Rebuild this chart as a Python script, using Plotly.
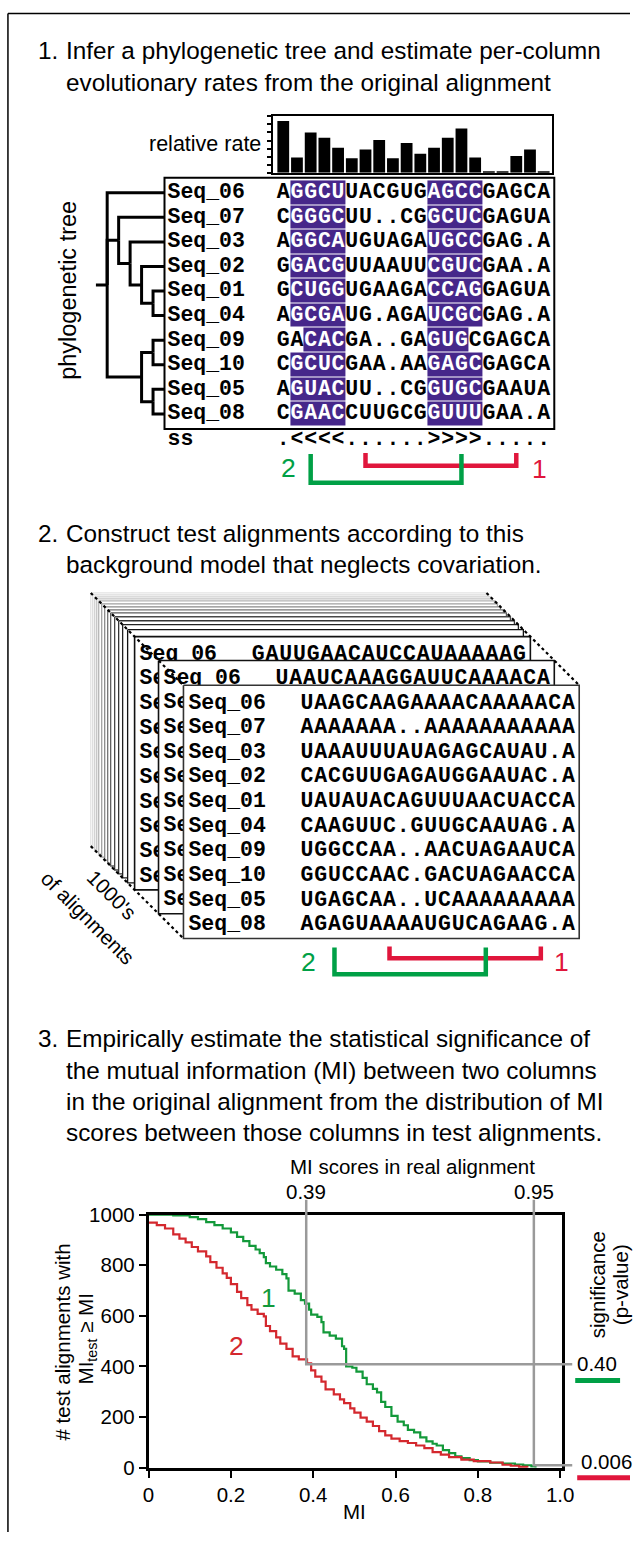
import plotly.graph_objects as go

W, H = 642, 1543

# ---------------- data ----------------
SEQ_NAMES = ["Seq_06", "Seq_07", "Seq_03", "Seq_02", "Seq_01",
             "Seq_04", "Seq_09", "Seq_10", "Seq_05", "Seq_08"]
REAL_ALIGNMENT = ["AGGCUUACGUGAGCCGAGCA", "CGGGCUU..CGGCUCGAGUA", "AGGCAUGUAGAUGCCGAG.A",
                  "GGACGUUAAUUCGUCGAA.A", "GCUGGUGAAGACCAGGAGUA", "AGCGAUG.AGAUCGCGAG.A",
                  "GACACGA..GAGUGCGAGCA", "CGCUCGAA.AAGAGCGAGCA", "AGUACUU..CGGUGCGAAUA",
                  "CGAACCUUGCGGUUUGAA.A"]
SS_NAME = "ss"
SS_LINE = ".<<<<......>>>>....."
RELATIVE_RATE = [6.4, 1.9, 5.0, 4.35, 3.1, 1.8, 2.9, 4.05, 1.8, 3.7,
                 2.35, 3.1, 4.35, 5.5, 1.9, 0.2, 0.2, 2.1, 2.9, 0.2]
TREE = (0, ["Seq_06",
            (1, ["Seq_07",
                 (2, ["Seq_03",
                      (3, ["Seq_02",
                           (4, ["Seq_01", "Seq_04"])])])]),
            (3, [(4, ["Seq_09", "Seq_10"]),
                 (4, ["Seq_05", "Seq_08"])])])
TEST_ALIGNMENT = ["UAAGCAAGAAAACAAAAACA", "AAAAAAA..AAAAAAAAAAA", "UAAAUUUAUAGAGCAUAU.A",
                  "CACGUUGAGAUGGAAUAC.A", "UAUAUACAGUUUAACUACCA", "CAAGUUC.GUUGCAAUAG.A",
                  "UGGCCAA..AACUAGAAUCA", "GGUCCAAC.GACUAGAACCA", "UGAGCAA..UCAAAAAAAAA",
                  "AGAGUAAAAUGUCAGAAG.A"]
TEST_BACK_ROWS = ["GAUUGAACAUCCAUAAAAAG", "UAAUCAAAGGAUUCAAAACA"]
PAIR_LABELS = ["1", "2"]
PAIR_COLUMNS = [(7, 18), (3, 14)]

MI_PAIR1 = [0.00, 0.06, 0.10, 0.12, 0.14, 0.16, 0.18, 0.20, 0.215, 0.23, 0.245, 0.26,
            0.27, 0.28, 0.285, 0.295, 0.31, 0.325, 0.335, 0.34, 0.355, 0.37, 0.38, 0.39,
            0.395, 0.41, 0.42, 0.425, 0.44, 0.455, 0.47, 0.475, 0.48, 0.495, 0.505, 0.52,
            0.53, 0.545, 0.555, 0.565, 0.575, 0.59, 0.605, 0.62, 0.63, 0.645, 0.66, 0.675,
            0.69, 0.70, 0.715, 0.73, 0.745, 0.76, 0.78, 0.80, 0.83, 0.86, 0.89, 0.91,
            0.93, 0.94]
N_PAIR1 = [1000, 997, 990, 982, 970, 958, 945, 930, 912, 895, 876, 862,
           848, 832, 808, 795, 782, 765, 748, 700, 688, 662, 648, 625,
           605, 596, 575, 535, 522, 510, 480, 470, 400, 395, 380, 355,
           330, 312, 298, 260, 240, 205, 182, 168, 150, 140, 120, 104,
           95, 88, 70, 58, 45, 38, 30, 25, 20, 17, 13, 10,
           6, 0]
MI_PAIR2 = [0.00, 0.02, 0.04, 0.06, 0.075, 0.09, 0.105, 0.12, 0.14, 0.15, 0.165, 0.18,
            0.19, 0.20, 0.215, 0.225, 0.24, 0.25, 0.265, 0.28, 0.285, 0.295, 0.31, 0.32,
            0.335, 0.35, 0.365, 0.385, 0.395, 0.405, 0.42, 0.43, 0.45, 0.465, 0.475, 0.49,
            0.50, 0.515, 0.53, 0.545, 0.56, 0.575, 0.59, 0.61, 0.63, 0.65, 0.67, 0.69,
            0.71, 0.73, 0.76, 0.79, 0.83, 0.86, 0.88, 0.90, 0.92]
N_PAIR2 = [968, 958, 945, 922, 905, 890, 872, 855, 835, 812, 790, 768,
           750, 725, 695, 670, 642, 625, 608, 598, 560, 540, 515, 490,
           470, 440, 428, 412, 385, 360, 340, 310, 290, 270, 255, 235,
           218, 198, 182, 165, 145, 128, 115, 105, 98, 88, 78, 62,
           52, 42, 32, 26, 21, 12, 8, 4, 0]
REAL_MI = [0.383, 0.936]
REAL_MI_TEXT = ["0.39", "0.95"]
P_LEVEL = [409, 10]
P_TEXT = ["0.40", "0.006"]
MI_TICKS = [0, 0.2, 0.4, 0.6, 0.8, 1.0]
MI_TICKTEXT = ["0", "0.2", "0.4", "0.6", "0.8", "1.0"]
COUNT_TICKS = [0, 200, 400, 600, 800, 1000]

TITLE_1 = ["Infer a phylogenetic tree and estimate per-column",
           "evolutionary rates from the original alignment"]
TITLE_2 = ["Construct test alignments according to this",
           "background model that neglects covariation."]
TITLE_3 = ["Empirically estimate the statistical significance of",
           "the mutual information (MI) between two columns",
           "in the original alignment from the distribution of MI",
           "scores between those columns in test alignments."]

# ---------------- style ----------------
SANS = "Liberation Sans, Arial, Helvetica, sans-serif"
MONO = "Liberation Mono, Courier New, monospace"
PURPLE = "#46278a"
GREEN = "#00a046"
RED = "#e0163c"
CURVE_GREEN = "#13993a"
CURVE_RED = "#d4282e"
GRAY = "#9a9a9a"
SEQ_SIZE = 21.5
T_SIZE = 24.3
L_SIZE = 20.5

# layout coordinates below are in a "design" pixel space; the canvas maps it to the page
SX0, SXS = 5.0, 0.975     # design_x = SX0 + SXS * page_x
SY0, SYS = 10.0, 0.992    # design_y = SY0 + SYS * page_y


def PX(d):
    return (d - SX0) / SXS


def PY(d):
    return (d - SY0) / SYS


def clamp(v):
    return max(0.0, min(1.0, v))


def dxp(a, b):
    return [clamp(PX(a) / W), clamp(PX(b) / W)]


def dyp(top, bottom):
    return [clamp(1 - PY(bottom) / H), clamp(1 - PY(top) / H)]


# section-1 geometry (design pixels)
COL0, CELL = 276.25, 13.75
ROW0, ROWH = 192.0, 24.75
BOX1 = (164, 177, 555, 430)
AX1 = (158, 171, 561, 456)
SS_Y = 441


def k_of(px):
    return (px - COL0) / CELL + 0.5


def r_of(py):
    return (py - ROW0) / ROWH


def partners(ss):
    stack, p = [], {}
    for i, ch in enumerate(ss, 1):
        if ch == "<":
            stack.append(i)
        elif ch == ">":
            j = stack.pop()
            p[i] = j
            p[j] = i
    return p


CANON = {"AU", "UA", "GC", "CG", "GU", "UG"}
PARTNER = partners(SS_LINE)

fig = go.Figure()

# ================= SECTION 1 =================
fig.add_trace(go.Bar(x=list(range(1, len(RELATIVE_RATE) + 1)), y=RELATIVE_RATE,
                     marker=dict(color="black", line=dict(width=0)), width=0.86,
                     xaxis="x2", yaxis="y2", hoverinfo="skip", showlegend=False))

Z = []
for seq in REAL_ALIGNMENT:
    row = []
    for c, ch in enumerate(seq, 1):
        if c in PARTNER and (ch + seq[PARTNER[c] - 1]) in CANON:
            row.append(1)
        else:
            row.append(None)
    Z.append(row)
fig.add_trace(go.Heatmap(z=Z, x=list(range(1, 21)), y=list(range(len(REAL_ALIGNMENT))),
                         colorscale=[[0, PURPLE], [1, PURPLE]], zmin=0, zmax=1,
                         showscale=False, xgap=0, ygap=1, hoverinfo="skip",
                         xaxis="x4", yaxis="y4"))

sx, sy, st, sc = [], [], [], []
for r, seq in enumerate(REAL_ALIGNMENT):
    for c, ch in enumerate(seq, 1):
        sx.append(c)
        sy.append(r)
        st.append(ch)
        sc.append("white" if Z[r][c - 1] else "black")
SS_ROW = r_of(SS_Y)
for c, ch in enumerate(SS_LINE, 1):
    sx.append(c)
    sy.append(SS_ROW)
    st.append(ch)
    sc.append("black")
fig.add_trace(go.Scatter(x=sx, y=sy, text=st, mode="text", textposition="middle center",
                         textfont=dict(family=MONO, size=SEQ_SIZE, color=sc, weight="bold"),
                         hoverinfo="skip", showlegend=False, xaxis="x4", yaxis="y4"))
fig.add_trace(go.Scatter(x=[k_of(167)] * (len(SEQ_NAMES) + 1),
                         y=list(range(len(SEQ_NAMES))) + [SS_ROW],
                         text=SEQ_NAMES + [SS_NAME], mode="text", textposition="middle right",
                         textfont=dict(family=MONO, size=SEQ_SIZE, color="black", weight="bold"),
                         hoverinfo="skip", showlegend=False, xaxis="x4", yaxis="y4"))

LEAF_DEPTH = 5
tx, ty = [], []


def walk(node):
    if isinstance(node, str):
        return float(SEQ_NAMES.index(node)), LEAF_DEPTH
    depth, kids = node
    res = [walk(k) for k in kids]
    ys = [y for y, _ in res]
    ny = (min(ys) + max(ys)) / 2
    for ky, kd in res:
        tx.extend([depth, depth, kd, None])
        ty.extend([ny, ky, ky, None])
    return ny, depth


root_y, root_d = walk(TREE)
tx.extend([root_d - 1, root_d, None])
ty.extend([root_y, root_y, None])
fig.add_trace(go.Scatter(x=tx, y=ty, mode="lines", line=dict(color="black", width=3),
                         hoverinfo="skip", showlegend=False, xaxis="x5", yaxis="y4"))

# ================= SECTION 2 (canvas, design pixels) =================
F_W, F_H = 397, 255
ORIGIN = (90, 595)
BACK_OFFSETS = [0, 2, 4, 6, 8, 11, 14, 17, 20, 24, 28, 32, 37]
BACK_COLORS = ["#e4e4e4", "#dcdcdc", "#d0d0d0", "#c4c4c4", "#b4b4b4", "#a0a0a0", "#8a8a8a",
               "#747474", "#5e5e5e", "#484848", "#333333", "#222222", "#111111"]
FRONT_OFFSETS = [44, 68, 93]
NAME_DX, SEQ_DX, ROW_DY, ROWH2, CELL2 = 5, 117, 18, 24.8, 13.8


def rect(x0, y0, color, width):
    fig.add_trace(go.Scatter(x=[x0, x0 + F_W, x0 + F_W, x0, x0], y=[y0, y0, y0 + F_H, y0 + F_H, y0],
                             mode="lines", fill="toself", fillcolor="white",
                             line=dict(color=color, width=width), hoverinfo="skip",
                             showlegend=False, xaxis="x", yaxis="y"))


def frame_text(left, top, seqs):
    fig.add_trace(go.Scatter(x=[left + NAME_DX] * len(SEQ_NAMES),
                             y=[top + ROW_DY + i * ROWH2 for i in range(len(SEQ_NAMES))],
                             text=SEQ_NAMES, mode="text", textposition="middle right",
                             textfont=dict(family=MONO, size=SEQ_SIZE, color="black", weight="bold"),
                             hoverinfo="skip", showlegend=False, xaxis="x", yaxis="y"))
    xs, ys, ts = [], [], []
    for r, seq in enumerate(seqs):
        for c, ch in enumerate(seq):
            xs.append(left + SEQ_DX + (c + 0.5) * CELL2)
            ys.append(top + ROW_DY + r * ROWH2)
            ts.append(ch)
    fig.add_trace(go.Scatter(x=xs, y=ys, text=ts, mode="text", textposition="middle center",
                             textfont=dict(family=MONO, size=SEQ_SIZE, color="black", weight="bold"),
                             hoverinfo="skip", showlegend=False, xaxis="x", yaxis="y"))


for off, col in zip(BACK_OFFSETS, BACK_COLORS):
    rect(ORIGIN[0] + off, ORIGIN[1] + off, col, 1.3)
for i, off in enumerate(FRONT_OFFSETS):
    left, top = ORIGIN[0] + off, ORIGIN[1] + off
    rect(left, top, "#111111" if i < 2 else "#333333", 1.6)
    frame_text(left, top, [TEST_BACK_ROWS[i]] if i < 2 else TEST_ALIGNMENT)

fl, ft = ORIGIN[0] + FRONT_OFFSETS[-1], ORIGIN[1] + FRONT_OFFSETS[-1]
for (ax0, ay0), (ax1, ay1) in [((ORIGIN[0], ORIGIN[1]), (fl, ft)),
                               ((ORIGIN[0] + F_W, ORIGIN[1]), (fl + F_W, ft)),
                               ((ORIGIN[0], ORIGIN[1] + F_H), (fl, ft + F_H))]:
    fig.add_trace(go.Scatter(x=[ax0, ax1], y=[ay0, ay1], mode="lines",
                             line=dict(color="black", width=2.2, dash="dot"),
                             hoverinfo="skip", showlegend=False, xaxis="x", yaxis="y"))

BR2 = {"1": (951, 963, RED), "2": (952, 979, GREEN)}
for lab, (c1, c2) in zip(PAIR_LABELS, PAIR_COLUMNS):
    top, bot, colr = BR2[lab]
    x1 = fl + SEQ_DX + (c1 - 0.5) * CELL2
    x2 = fl + SEQ_DX + (c2 - 0.5) * CELL2
    fig.add_trace(go.Scatter(x=[x1, x1, x2, x2], y=[top, bot, bot, top], mode="lines",
                             line=dict(color=colr, width=4.5), hoverinfo="skip",
                             showlegend=False, xaxis="x", yaxis="y"))

# ================= SECTION 3 =================
fig.add_trace(go.Scatter(x=MI_PAIR1, y=N_PAIR1, mode="lines", line_shape="hv",
                         line=dict(color=CURVE_GREEN, width=2.2), hoverinfo="skip",
                         showlegend=False, xaxis="x3", yaxis="y3"))
fig.add_trace(go.Scatter(x=MI_PAIR2, y=N_PAIR2, mode="lines", line_shape="hv",
                         line=dict(color=CURVE_RED, width=2.2), hoverinfo="skip",
                         showlegend=False, xaxis="x3", yaxis="y3"))

PX_PER_MI = (563 - 148) / 1.005
PX_PER_N = (1476 - 1221) / 1000.0
GRAY_TOP = (1476 - 1206) / PX_PER_N
GRAY_RIGHT = (573 - 148) / PX_PER_MI
X7_RIGHT = SX0 + SXS * W
for xm, lvl in zip(REAL_MI, P_LEVEL):
    fig.add_trace(go.Scatter(x=[xm, xm, GRAY_RIGHT], y=[GRAY_TOP, lvl, lvl], mode="lines",
                             line=dict(color=GRAY, width=2.5), hoverinfo="skip",
                             showlegend=False, xaxis="x7", yaxis="y7"))

# ================= layout =================
hidden = dict(visible=False, showgrid=False, zeroline=False, fixedrange=True)
frame_ax = dict(showline=True, mirror=True, linecolor="black", showgrid=False,
                zeroline=False, fixedrange=True)

layout = dict(
    width=W, height=H, autosize=False, margin=dict(l=0, r=0, t=0, b=0),
    paper_bgcolor="white", plot_bgcolor="rgba(0,0,0,0)", showlegend=False,
    xaxis=dict(domain=[0, 1], range=[SX0, SX0 + SXS * W], anchor="y", **hidden),
    yaxis=dict(domain=[0, 1], range=[SY0 + SYS * H, SY0], anchor="x", **hidden),
    xaxis2=dict(domain=dxp(273, 553), range=[k_of(273), k_of(553)], anchor="y2",
                ticks="", showticklabels=False, linewidth=1.5, **frame_ax),
    yaxis2=dict(domain=dyp(115, 172), range=[0, 7], anchor="x2", ticks="outside",
                tickvals=list(range(8)), ticklen=4, tickwidth=1.5, tickcolor="black",
                showticklabels=False, linewidth=1.5, **frame_ax),
    xaxis4=dict(domain=dxp(AX1[0], AX1[2]), range=[k_of(AX1[0]), k_of(AX1[2])], anchor="y4",
                **hidden),
    yaxis4=dict(domain=dyp(AX1[1], AX1[3]), range=[r_of(AX1[3]), r_of(AX1[1])], anchor="x4",
                **hidden),
    xaxis5=dict(domain=dxp(95, 164), range=[-1, LEAF_DEPTH], anchor="y4", **hidden),
    xaxis3=dict(domain=dxp(148, 563), range=[0, 1.005], anchor="y3", ticks="outside",
                tickvals=MI_TICKS, ticktext=MI_TICKTEXT, ticklen=7, tickwidth=2,
                tickcolor="black", linewidth=2.5,
                tickfont=dict(family=SANS, size=L_SIZE, color="black"), **frame_ax),
    yaxis3=dict(domain=dyp(1221, 1476), range=[0, 1000], anchor="x3", ticks="outside",
                tickvals=COUNT_TICKS, ticklen=7, tickwidth=2, tickcolor="black",
                linewidth=2.5, tickfont=dict(family=SANS, size=L_SIZE, color="black"), **frame_ax),
    xaxis7=dict(domain=dxp(148, X7_RIGHT), range=[0, (X7_RIGHT - 148) / PX_PER_MI],
                anchor="y7", **hidden),
    yaxis7=dict(domain=dyp(1195, 1495), range=[(1476 - 1495) / PX_PER_N, (1476 - 1195) / PX_PER_N],
                anchor="x7", **hidden),
)


def ann(text, x, y, size=T_SIZE, color="black", xanchor="left", angle=0, xref="x", yref="y"):
    return dict(text=text, x=x, y=y, xref=xref, yref=yref, showarrow=False, xanchor=xanchor,
                yanchor="middle", textangle=angle,
                font=dict(family=SANS, size=size, color=color))


annotations = []
for num, lines, y0 in [("1.", TITLE_1, 49), ("2.", TITLE_2, 535), ("3.", TITLE_3, 1044)]:
    annotations.append(ann(num, 35, y0))
    for i, line in enumerate(lines):
        annotations.append(ann(line, 63, y0 + i * 31.6))

annotations += [
    ann("relative rate", 263, 143, size=21.5, xanchor="right"),
    ann("phylogenetic tree", 67, 290, size=23.5, xanchor="center", angle=-90),
    ann("2", 288, 469, size=26.5, color=GREEN, xanchor="center"),
    ann("1", 540, 470, size=26.5, color=RED, xanchor="center"),
    ann("2", 308, 967, size=26.5, color=GREEN, xanchor="center"),
    ann("1", 562, 967, size=26.5, color=RED, xanchor="center"),
    ann("1000's", 111, 899, size=L_SIZE, xanchor="center", angle=45),
    ann("of alignments", 87, 922, size=L_SIZE, xanchor="center", angle=45),
    ann("MI scores in real alignment", 413, 1173, size=L_SIZE, xanchor="center"),
    ann("# test alignments with", 62, 1349, size=L_SIZE, xanchor="center", angle=-90),
    ann("MI<sub>test</sub> ≥ MI", 86, 1346, size=L_SIZE, xanchor="center", angle=-90),
    ann("MI", 355, 1520, size=L_SIZE, xanchor="center"),
    ann("significance", 598, 1292, size=L_SIZE, xanchor="center", angle=-90),
    ann("(p-value)", 621, 1292, size=L_SIZE, xanchor="center", angle=-90),
    ann("1", 268, 1305, size=26.5, color=CURVE_GREEN, xanchor="center"),
    ann("2", 236, 1353, size=26.5, color=CURVE_RED, xanchor="center"),
    ann(P_TEXT[0], 598, 1371, size=L_SIZE, xanchor="center"),
    ann(P_TEXT[1], 607, 1470, size=L_SIZE, xanchor="center"),
]
for xm, txt in zip(REAL_MI, REAL_MI_TEXT):
    annotations.append(ann(txt, xm, 1198, size=L_SIZE, xanchor="center", xref="x3", yref="y"))
layout["annotations"] = annotations

shapes = [
    dict(type="line", xref="paper", yref="paper", x0=2 / W, y0=1 - 1.5 / H, x1=1, y1=1 - 1.5 / H,
         line=dict(color="black", width=1.5)),
    dict(type="line", xref="paper", yref="paper", x0=2 / W, y0=1 - 1.5 / H, x1=2 / W, y1=0,
         line=dict(color="black", width=1.5)),
    dict(type="rect", xref="x4", yref="y4", x0=k_of(BOX1[0]), x1=k_of(BOX1[2]),
         y0=r_of(BOX1[1]), y1=r_of(BOX1[3]), line=dict(color="black", width=2),
         layer="above"),
    dict(type="line", xref="x", yref="y", x0=576, y0=1388, x1=621, y1=1388,
         line=dict(color=GREEN, width=5)),
    dict(type="line", xref="x", yref="y", x0=578, y0=1486, x1=X7_RIGHT, y1=1486,
         line=dict(color=RED, width=5)),
]
BR1 = {"1": (454, 467, RED), "2": (455, 484, GREEN)}
for lab, (c1, c2) in zip(PAIR_LABELS, PAIR_COLUMNS):
    top, bot, colr = BR1[lab]
    pt, pb = 1 - PY(top) / H, 1 - PY(bot) / H
    shapes.append(dict(type="path", xref="x4", yref="paper",
                       path=f"M {c1},{pt} L {c1},{pb} L {c2},{pb} L {c2},{pt}",
                       line=dict(color=colr, width=4.5)))
layout["shapes"] = shapes

fig.update_layout(**layout)
fig.write_html("out.html", include_plotlyjs=True, config={"displayModeBar": False},
               post_script="document.body.style.margin='0px';")
